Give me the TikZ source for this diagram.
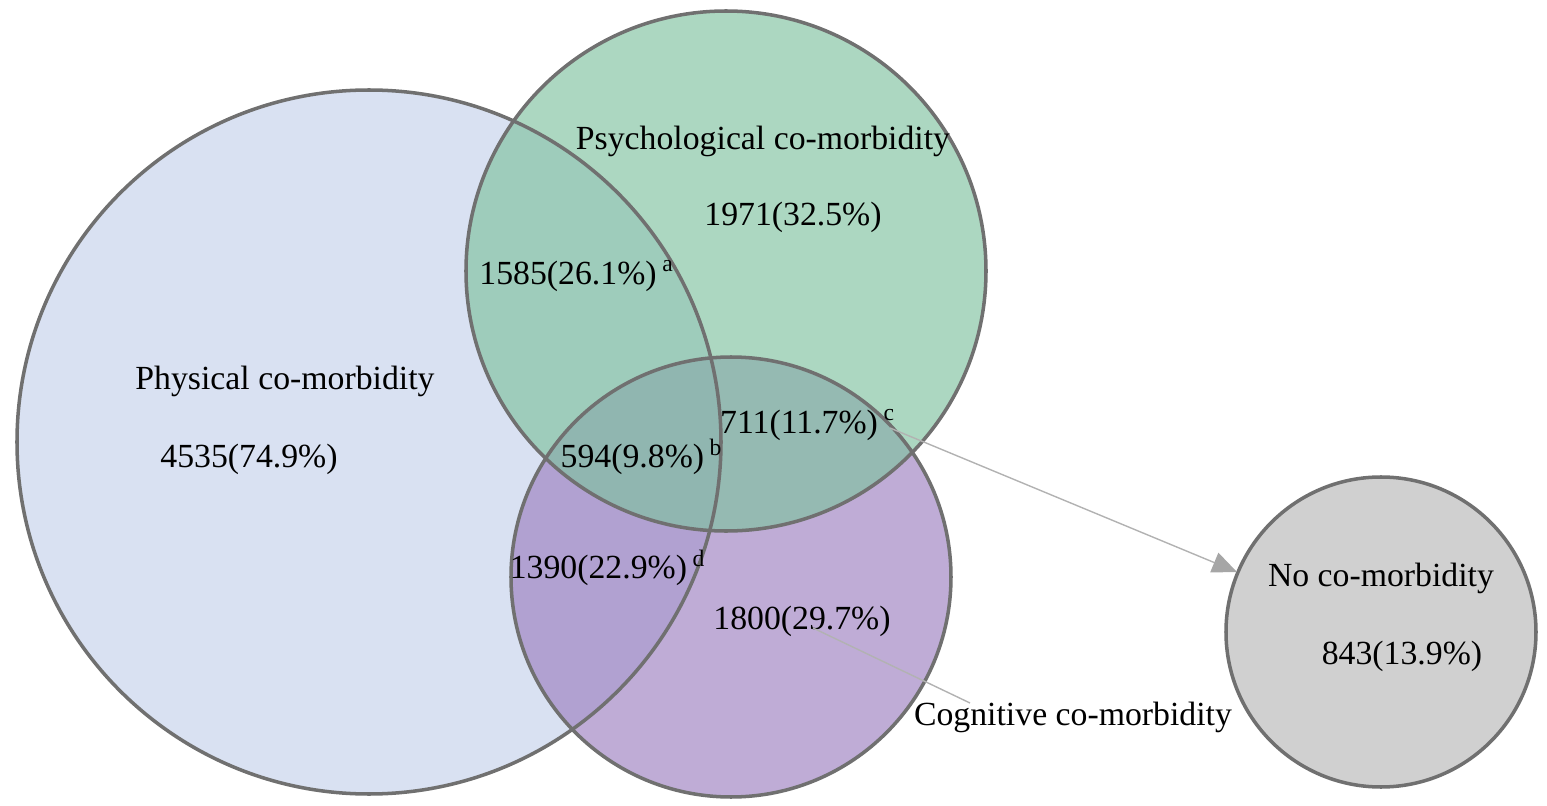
\documentclass[tikz,border=0pt]{standalone}
\usepackage{fontspec}
\setmainfont{Liberation Serif}
\usetikzlibrary{arrows.meta}
\definecolor{physblue}{HTML}{D9E1F2}
\definecolor{psygreen}{HTML}{7FC29F}
\definecolor{cogpurple}{HTML}{9C80C0}
\definecolor{rimgrey}{HTML}{707070}
\definecolor{nogrey}{HTML}{D0D0D0}
\tikzset{
  rim/.style = {draw = rimgrey, line width = 1pt},
  lbl/.style = {font = \fontsize{9.6}{12}\selectfont, inner sep = 0pt},
  pointer/.style = {draw = gray!60, line width = 0.4pt}
}
\begin{document}
\begin{tikzpicture}[x = 0.01cm, y = -0.01cm]
    \useasboundingbox (0, 0) rectangle (1547, 806);

    % Krugovi.
    \fill[physblue] (369, 442) circle (352);
    \fill[cogpurple, opacity = 0.65] (731, 577) circle (220);
    \fill[psygreen, opacity = 0.65] (726, 271) circle (260);
    \fill[nogrey] (1381, 632) circle (155);

    % Rubovi.
    \draw[rim] (369, 442) circle (352);
    \draw[rim] (731, 577) circle (220);
    \draw[rim] (726, 271) circle (260);
    \draw[rim] (1381, 632) circle (155);

    % Oznake.
    \node[lbl] (psy) at (763, 141) {Psychological co-morbidity};
    \node[lbl] (psyn) at (793, 217) {1971(32.5\%)};
    \node[lbl] (physpsy) at (577, 276) {1585(26.1\%)\,\textsuperscript{a}};
    \node[lbl] (phys) at (285, 381) {Physical co-morbidity};
    \node[lbl] (physn) at (249, 459) {4535(74.9\%)};
    \node[lbl] (psycog) at (808, 425) {711(11.7\%)\,\textsuperscript{c}};
    \node[lbl] (all) at (642, 457) {594(9.8\%)\,\textsuperscript{b}};
    \node[lbl] (physcog) at (608, 568) {1390(22.9\%)\,\textsuperscript{d}};
    \node[lbl] (cogn) at (802, 621) {1800(29.7\%)};
    \node[lbl] (cog) at (1073, 717) {Cognitive co-morbidity};
    \node[lbl] (none) at (1381, 578) {No co-morbidity};
    \node[lbl] (nonen) at (1402, 656) {843(13.9\%)};

    % Pokazivaci.
    \coordinate (cstart) at (890, 428);
    \coordinate (cend) at (1237, 572);
    \draw[pointer, -{Triangle[length = 7pt, width = 6pt, fill = gray!70, color = gray!70]}] (cstart) -- (cend);
    \coordinate (gstart) at (813, 628);
    \draw[pointer] (gstart) -- (970, 703);
\end{tikzpicture}
\end{document}
